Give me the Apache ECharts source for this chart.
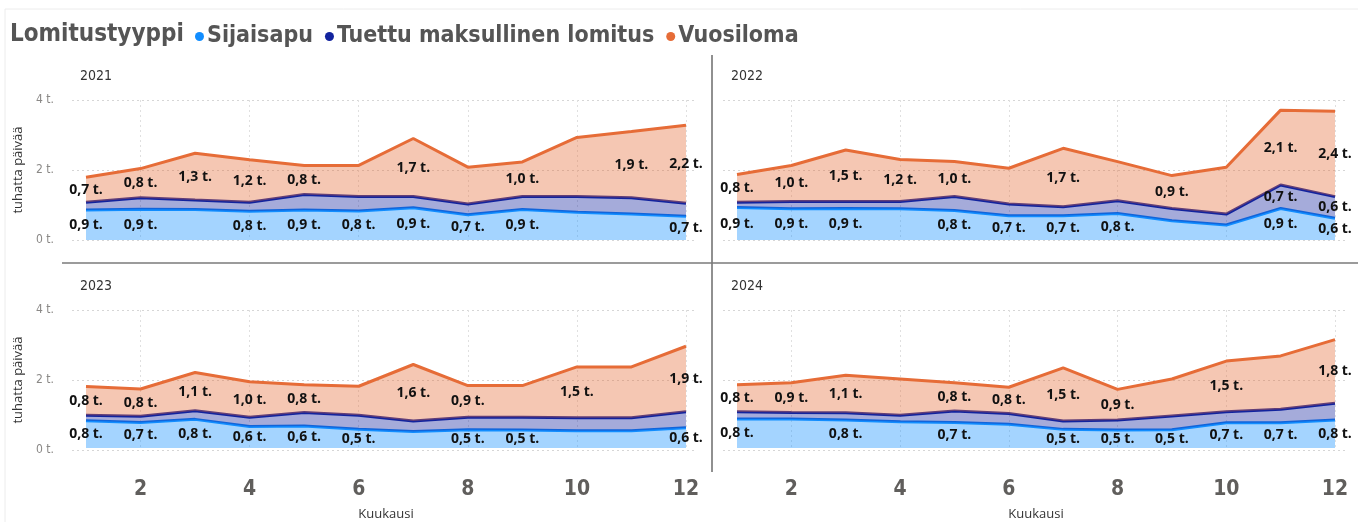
<!DOCTYPE html>
<html>
<head>
<meta charset="utf-8">
<script src="https://cdn.jsdelivr.net/npm/echarts@6/dist/echarts.min.js"></script>
<style>
  html, body { margin: 0; padding: 0; background: #fff; }
  #chart { width: 1358px; height: 522px; }
</style>
</head>
<body>
<div id="chart"></div>
<script>
// ---- data (thousands of days) ----
const months = ['1','2','3','4','5','6','7','8','9','10','11','12'];
const years = ['2021', '2022', '2023', '2024'];
const seriesNames = ['Sijaisapu', 'Tuettu maksullinen lomitus', 'Vuosiloma'];
const yTicks = [0, 2, 4];

const sijaisapu2021 = [0.86, 0.88, 0.87, 0.82, 0.86, 0.83, 0.92, 0.72, 0.87, 0.79, 0.74, 0.68];
const tuettu2021    = [0.22, 0.33, 0.27, 0.26, 0.44, 0.41, 0.32, 0.31, 0.37, 0.45, 0.47, 0.37];
const vuosiloma2021 = [0.71, 0.83, 1.34, 1.21, 0.83, 0.89, 1.66, 1.05, 0.99, 1.69, 1.89, 2.23];

const sijaisapu2022 = [0.93, 0.89, 0.90, 0.89, 0.84, 0.69, 0.69, 0.76, 0.55, 0.43, 0.90, 0.62];
const tuettu2022    = [0.15, 0.21, 0.20, 0.21, 0.40, 0.34, 0.26, 0.36, 0.35, 0.31, 0.67, 0.62];
const vuosiloma2022 = [0.79, 1.03, 1.47, 1.20, 1.00, 1.02, 1.67, 1.12, 0.94, 1.34, 2.14, 2.44];

const sijaisapu2023 = [0.79, 0.74, 0.83, 0.62, 0.64, 0.54, 0.48, 0.53, 0.52, 0.50, 0.50, 0.59];
const tuettu2023    = [0.16, 0.18, 0.25, 0.27, 0.39, 0.41, 0.30, 0.36, 0.37, 0.38, 0.38, 0.46];
const vuosiloma2023 = [0.83, 0.79, 1.11, 1.03, 0.80, 0.84, 1.64, 0.92, 0.92, 1.47, 1.47, 1.90];

const sijaisapu2024 = [0.84, 0.84, 0.81, 0.76, 0.74, 0.69, 0.54, 0.52, 0.53, 0.73, 0.73, 0.81];
const tuettu2024    = [0.21, 0.19, 0.21, 0.19, 0.33, 0.31, 0.24, 0.29, 0.40, 0.32, 0.39, 0.49];
const vuosiloma2024 = [0.78, 0.86, 1.09, 1.05, 0.82, 0.76, 1.54, 0.89, 1.07, 1.47, 1.55, 1.84];

// which data labels are visible in the original (1 = shown)
const labelsShown = {
  '2021': ['110111111001', '000000000000', '111110101011'],
  '2022': ['111011110011', '000000000011', '111110101011'],
  '2023': ['111111011001', '000000000000', '111110110101'],
  '2024': ['101010111111', '000000000000', '111011110101']
};

const dataByYear = {
  '2021': [sijaisapu2021, tuettu2021, vuosiloma2021],
  '2022': [sijaisapu2022, tuettu2022, vuosiloma2022],
  '2023': [sijaisapu2023, tuettu2023, vuosiloma2023],
  '2024': [sijaisapu2024, tuettu2024, vuosiloma2024]
};

// ---- styling ----
const lineColors = ['#118DFF', '#12239E', '#E66C37'];
const fmt = v => v.toFixed(1).replace('.', ',') + ' t.';
const titleFont = '"DejaVu Sans Condensed", "DejaVu Sans", sans-serif';
const labelFont = '"Open Sans", "Noto Sans", sans-serif';

const panels = [
  { year: '2021', left: 86,  top: 100, width: 600, leftCol: true,  bottomRow: false },
  { year: '2022', left: 737, top: 100, width: 598, leftCol: false, bottomRow: false },
  { year: '2023', left: 86,  top: 310, width: 600, leftCol: true,  bottomRow: true },
  { year: '2024', left: 737, top: 310, width: 598, leftCol: false, bottomRow: true }
];
const plotH = 140;

const grid = [], xAxis = [], yAxis = [], series = [];
const graphic = [];

panels.forEach((p, pi) => {
  // frame grid (gridlines + y labels), slightly wider than data range
  const gFrame = grid.length;
  grid.push({ left: p.left - 14, top: p.top, width: p.width + 25, height: plotH, containLabel: false });
  xAxis.push({ gridIndex: gFrame, type: 'value', min: 0, max: 1, show: false });
  yAxis.push({
    gridIndex: gFrame, type: 'value', min: 0, max: 4, interval: 2,
    axisLine: { show: false }, axisTick: { show: false },
    axisLabel: { show: p.leftCol, formatter: v => v + ' t.', color: '#8a8886', fontSize: 12, fontFamily: titleFont, margin: 18 },
    splitLine: { show: true, lineStyle: { type: [2, 3], color: '#d6d6d6', width: 1 } },
    name: p.leftCol ? 'tuhatta päivää' : '',
    nameLocation: 'middle', nameGap: 47, nameRotate: 90,
    nameTextStyle: { color: '#333', fontSize: 13, fontFamily: labelFont }
  });

  // data grid
  const gData = grid.length;
  grid.push({ left: p.left, top: p.top, width: p.width, height: plotH, containLabel: false });
  const xi = xAxis.length;
  xAxis.push({
    gridIndex: gData, type: 'category', data: months, boundaryGap: false,
    axisLine: { show: false }, axisTick: { show: false },
    axisLabel: {
      show: p.bottomRow, interval: (idx) => idx % 2 === 1,
      color: '#605E5C', fontSize: 21, fontWeight: 'bold', fontFamily: titleFont, margin: 31
    },
    splitLine: { show: true, interval: (idx) => idx % 2 === 1, lineStyle: { type: [2, 3], color: '#e0e0e0', width: 1 } },
    name: p.bottomRow ? 'Kuukausi' : '',
    nameLocation: 'middle', nameGap: 60,
    nameTextStyle: { color: '#333', fontSize: 13, fontFamily: labelFont }
  });
  const yi = yAxis.length;
  yAxis.push({ gridIndex: gData, type: 'value', min: 0, max: 4, interval: 2, show: false, splitLine: { show: false } });

  const vals = dataByYear[p.year];
  const cum = months.map(() => 0);
  vals.forEach((arr, si) => {
    series.push({
      name: seriesNames[si], type: 'line', xAxisIndex: xi, yAxisIndex: yi,
      stack: 'stack' + p.year, data: arr, symbol: 'none', smooth: false,
      lineStyle: { color: lineColors[si], width: 3 },
      itemStyle: { color: lineColors[si] },
      areaStyle: { color: lineColors[si], opacity: 0.38 },
      z: 2 + si, silent: true
    });
    const mask = labelsShown[p.year][si];
    const labelData = arr.map((v, i) => {
      const mid = cum[i] + v / 2;
      cum[i] += v;
      return { value: [i, mid], raw: v, label: { show: mask[i] === '1' } };
    });
    series.push({
      name: 'lbl' + p.year + si, type: 'scatter', xAxisIndex: xi, yAxisIndex: yi,
      data: labelData, symbolSize: 1, itemStyle: { color: 'rgba(0,0,0,0)' }, z: 10, silent: true,
      label: {
        position: 'inside', color: '#111', fontSize: 14, fontWeight: 'bold', fontFamily: labelFont,
        opacity: 1,
        formatter: (prm) => fmt(prm.data.raw)
      }
    });
  });

  graphic.push({
    type: 'text', left: p.left - 6, top: p.top - 31,
    style: { text: p.year, fill: '#333', font: '14px ' + titleFont }
  });
});

// dividers and frame
graphic.push(
  { type: 'rect', shape: { x: 5, y: 9, width: 1360, height: 520 }, style: { fill: 'none', stroke: '#ececec', lineWidth: 1 }, silent: true },
  { type: 'line', shape: { x1: 712, y1: 55, x2: 712, y2: 472 }, style: { stroke: '#6b6b6b', lineWidth: 1.5 } },
  { type: 'line', shape: { x1: 62, y1: 263, x2: 1358, y2: 263 }, style: { stroke: '#7a7a7a', lineWidth: 1.5 } },
  { type: 'text', left: 10, top: 23, style: { text: 'Lomitustyyppi', fill: '#555', font: 'bold 24px ' + titleFont } }
);

const chart = echarts.init(document.getElementById('chart'), null, { renderer: 'canvas' });
chart.setOption({
  animation: false,
  backgroundColor: '#fff',
  legend: {
    data: seriesNames, left: 190, top: 20, icon: 'circle', itemWidth: 9, itemHeight: 9, itemGap: 12,
    textStyle: { color: '#555', fontSize: 23, fontWeight: 'bold', fontFamily: titleFont, padding: [0, 0, 0, -2] },
    selectedMode: false
  },
  grid, xAxis, yAxis, series, graphic
});
</script>
</body>
</html>
